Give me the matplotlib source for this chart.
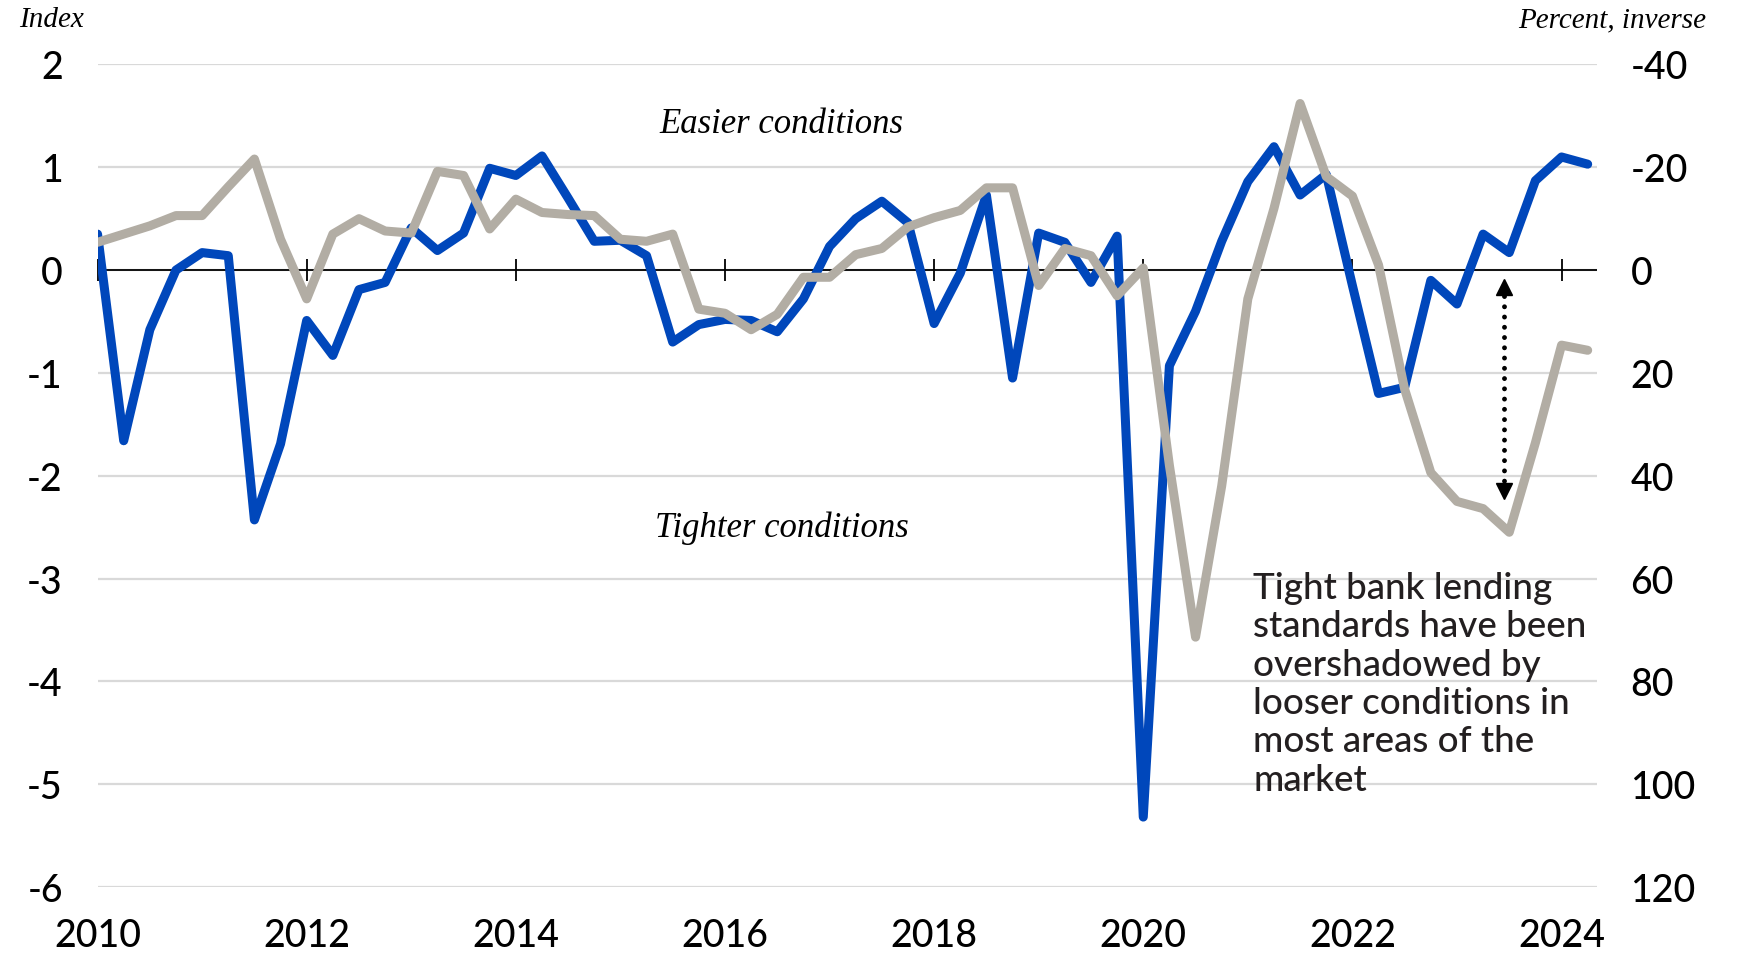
import numpy as np
import pandas as pd
import matplotlib
matplotlib.use("Agg")
import matplotlib.pyplot as plt

plt.rcParams["axes.unicode_minus"] = False

# quarterly observations, 2010Q1 .. 2024Q2
quarters = pd.period_range("2010Q1", "2024Q2", freq="Q")

# credit conditions index (left axis)
conditions_index = [
    0.35, -1.66, -0.58, 0.00, 0.17, 0.14, -2.43, -1.69,
    -0.49, -0.83, -0.19, -0.12, 0.41, 0.19, 0.36, 0.99,
    0.92, 1.11, 0.70, 0.28, 0.29, 0.14, -0.70, -0.53,
    -0.48, -0.49, -0.60, -0.28, 0.23, 0.50, 0.67, 0.46,
    -0.52, -0.03, 0.73, -1.05, 0.36, 0.27, -0.12, 0.33,
    -5.32, -0.93, -0.40, 0.28, 0.86, 1.20, 0.73, 0.93,
    -0.15, -1.20, -1.14, -0.10, -0.33, 0.35, 0.17, 0.87,
    1.10, 1.03,
]

# bank lending standards, percent (right axis, inverted)
lending_standards = [
    -5.4, -7.0, -8.6, -10.6, -10.6, -16.2, -21.6, -6.0,
    5.6, -7.0, -10.0, -7.6, -7.2, -19.2, -18.4, -8.0,
    -13.8, -11.2, -10.8, -10.6, -6.0, -5.6, -7.0, 7.6,
    8.4, 11.6, 8.6, 1.4, 1.4, -3.0, -4.2, -8.4,
    -10.2, -11.6, -16.0, -16.0, 3.0, -4.2, -2.8, 5.0,
    -0.4, 38.0, 71.4, 42.0, 5.6, -12.0, -32.4, -18.2,
    -14.4, -1.0, 23.2, 39.4, 45.0, 46.4, 51.0, 33.6,
    14.6, 15.6,
]

year_ticks = [2010, 2012, 2014, 2016, 2018, 2020, 2022, 2024]
left_ticks = [-6, -5, -4, -3, -2, -1, 0, 1, 2]
right_ticks = [120, 100, 80, 60, 40, 20, 0, -20, -40]

BLUE = "#0047BB"
GREY = "#B2ADA4"
SANS = "Lato"
SERIF = "Liberation Serif"

x = quarters.year + (quarters.quarter - 1) / 4.0

fig = plt.figure(figsize=(17.39, 9.54), dpi=100)
ax = fig.add_axes([0.0561, 0.0692, 0.8623, 0.8622])
ax2 = ax.twinx()

ax.set_xlim(2010, 2024.34)
ax.set_ylim(-6, 2)
ax2.set_ylim(120, -40)

for a in (ax, ax2):
    for s in a.spines.values():
        s.set_visible(False)

ax.set_yticks(left_ticks)
ax.set_yticklabels([str(t) for t in left_ticks])
ax.grid(axis="y", color="#d9d9d9", lw=1.6)
ax.set_axisbelow(True)
ax.tick_params(axis="y", length=0, pad=25, labelsize=27)
ax.set_xticks(year_ticks)
ax.tick_params(axis="x", length=0, pad=22, labelsize=27)

ax2.set_yticks(right_ticks)
ax2.set_yticklabels([str(t) for t in right_ticks])
ax2.tick_params(axis="y", length=0, pad=24, labelsize=27)

for lab in ax.get_xticklabels() + ax.get_yticklabels() + ax2.get_yticklabels():
    lab.set_fontfamily(SANS)
    lab.set_fontweight("medium")

# zero line with year ticks
ax.axhline(0, color="black", lw=1.3, zorder=2)
ax.vlines(year_ticks, -0.11, 0.11, color="black", lw=1.3, clip_on=False, zorder=2)

ax.plot(x, conditions_index, color=BLUE, lw=6.5, solid_capstyle="round",
        solid_joinstyle="round", zorder=3)
ax2.plot(x, lending_standards, color=GREY, lw=6.5, solid_capstyle="round",
         solid_joinstyle="round", zorder=3)

# axis titles
fig.text(0.011, 0.979, "Index", fontfamily=SERIF, style="italic", fontsize=21,
         ha="left", va="center")
fig.text(0.981, 0.979, "Percent, inverse", fontfamily=SERIF, style="italic",
         fontsize=21, ha="right", va="center")

ax.text(2016.54, 1.43, "Easier conditions", fontfamily=SERIF, style="italic",
        fontsize=25, ha="center", va="center")
ax.text(2016.54, -2.50, "Tighter conditions", fontfamily=SERIF, style="italic",
        fontsize=25, ha="center", va="center")

ax2.text(2021.05, 58.5,
         "Tight bank lending\nstandards have been\novershadowed by\n"
         "looser conditions in\nmost areas of the\nmarket",
         fontfamily=SANS, fontweight="medium", fontsize=26.5, color="#231f20",
         ha="left", va="top", linespacing=1.2, zorder=4)

# dotted double arrow showing the gap
arrow_x = 2023.45
ax.plot([arrow_x, arrow_x], [-0.25, -2.06], color="black", lw=3.5,
        linestyle=(0, (0.01, 2.1)), dash_capstyle="round", zorder=5)
ax.plot([arrow_x], [-0.16], marker="^", markersize=12, color="black", zorder=5)
ax.plot([arrow_x], [-2.15], marker="v", markersize=12, color="black", zorder=5)

fig.savefig("out.png", dpi=100)
